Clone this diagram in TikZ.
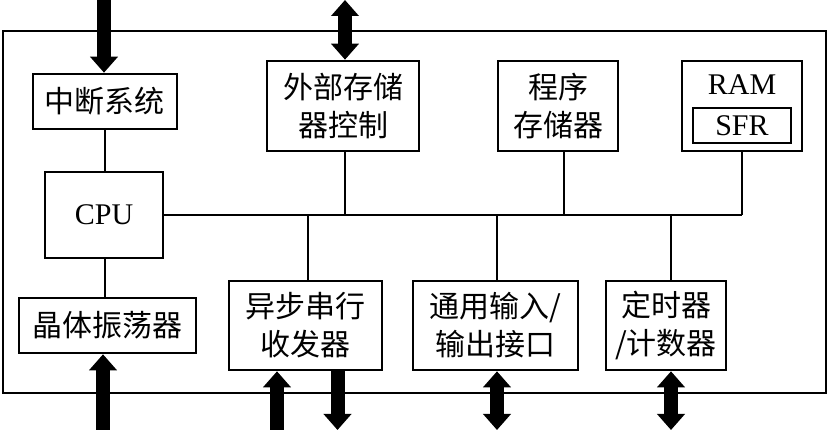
\documentclass[tikz,border=0pt]{standalone}
\usepackage{fontspec}
\setmainfont{Liberation Serif}
\newfontfamily\cjk{Noto Sans CJK SC}
\usetikzlibrary{arrows.meta}
\tikzset{
  box/.style={draw, line width=2.6pt, inner sep=0pt, align=center, font=\cjk\fontsize{30}{38}\selectfont},
  lat/.style={font=\fontsize{30}{36}\selectfont},
  wire/.style={line width=1.4pt},
  frame/.style={line width=2.4pt},
  bigarrow/.style={line width=14pt, -{Triangle[width=27pt,length=16pt]}},
  bigdouble/.style={line width=14pt, {Triangle[width=27pt,length=16pt]}-{Triangle[width=27pt,length=16pt]}},
}
\begin{document}
\begin{tikzpicture}[x=1pt,y=-1pt]
\useasboundingbox (0,0) rectangle (828,430);
\draw[frame] (3,31) rectangle (826,393);
\node[box, minimum width=144pt, minimum height=55pt] (int) at (105,101.5) {中断系统};
\node[box, minimum width=152pt, minimum height=90pt] (ext) at (343,106) {外部存储\\器控制};
\node[box, lat, minimum width=118pt, minimum height=86pt] (cpu) at (104,215) {CPU};
\node[box, minimum width=120pt, minimum height=90pt] (prog) at (558,106) {程序\\存储器};
\node[box, minimum width=120pt, minimum height=90pt] (ram) at (742,106) {};
\node[lat, inner sep=0pt] (ramt) at (742,85) {RAM};
\node[box, lat, minimum width=98pt, minimum height=35pt] (sfr) at (742,125.5) {SFR};
\node[box, minimum width=177pt, minimum height=55pt] (osc) at (107.5,325.5) {晶体振荡器};
\node[box, minimum width=153pt, minimum height=89pt] (uart) at (305.5,325.5) {异步串行\\收发器};
\node[box, minimum width=165pt, minimum height=89pt] (gpio) at (495.5,325.5) {通用输入/\\输出接口};
\node[box, minimum width=120pt, minimum height=89pt] (tmr) at (666,325.5) {定时器\\/计数器};
% bus
\coordinate (bx) at (345,215);
\coordinate (bp) at (564,215);
\coordinate (br) at (742,215);
\coordinate (bu) at (308,215);
\coordinate (bg) at (497,215);
\coordinate (bt) at (671,215);
\coordinate (vc) at (105,215);
\draw[wire] (cpu.east) -- (br);
\draw[wire] (int.south -| vc) -- (cpu.north -| vc);
\draw[wire] (cpu.south -| vc) -- (osc.north -| vc);
\draw[wire] (ext.south -| bx) -- (bx);
\draw[wire] (prog.south -| bp) -- (bp);
\draw[wire] (ram.south) -- (br);
\draw[wire] (bu) -- (uart.north -| bu);
\draw[wire] (bg) -- (gpio.north -| bg);
\draw[wire] (bt) -- (tmr.north -| bt);
% big arrows
\coordinate (aint) at (104,0);
\coordinate (aext) at (345,0);
\coordinate (aosc) at (103,430);
\coordinate (auin) at (277,430);
\coordinate (auout) at (337.5,430);
\coordinate (agp) at (497,430);
\coordinate (atm) at (671,430);
\draw[bigarrow] (aint) -- (int.north -| aint);
\draw[bigdouble] (aext) -- (ext.north -| aext);
\draw[bigarrow] (aosc) -- (osc.south -| aosc);
\draw[bigarrow] (auin) -- (uart.south -| auin);
\draw[bigarrow] (uart.south -| auout) -- (auout);
\draw[bigdouble] (gpio.south -| agp) -- (agp);
\draw[bigdouble] (tmr.south -| atm) -- (atm);
\end{tikzpicture}
\end{document}
